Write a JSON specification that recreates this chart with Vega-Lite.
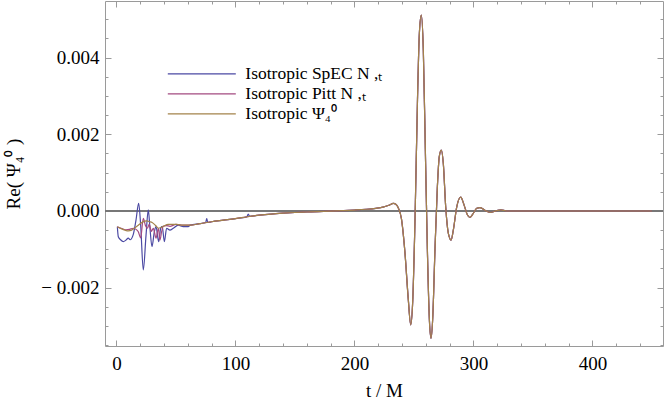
{
  "$schema": "https://vega.github.io/schema/vega-lite/v6.json",
  "width": 558,
  "height": 345,
  "autosize": {"type": "none"},
  "padding": {"left": 105, "top": 1, "right": 1, "bottom": 55},
  "background": "white",
  "config": {
    "view": {"stroke": "#9a9a9a", "strokeWidth": 1},
    "axis": {
      "domain": false,
      "grid": false,
      "tickColor": "#9a9a9a",
      "tickWidth": 1,
      "labelFont": "Liberation Serif",
      "labelFontSize": 19,
      "labelColor": "#000000",
      "titleFont": "Liberation Serif",
      "titleFontSize": 19,
      "titleFontWeight": "normal",
      "titleColor": "#000000"
    },
    "legend": {
      "orient": "none",
      "legendX": 87.3,
      "legendY": 63.3,
      "padding": 0,
      "symbolType": "M-4,0H4",
      "symbolSize": 289,
      "symbolStrokeWidth": 1.2,
      "labelOffset": 34,
      "rowPadding": 2,
      "labelFont": "Liberation Serif",
      "labelFontSize": 17.5,
      "labelColor": "#000000"
    }
  },
  "data": {
    "values": [
      {"s": "a", "t": 0.8, "v": -0.00041},
      {"s": "a", "t": 1.6, "v": -0.00067},
      {"s": "a", "t": 3.5, "v": -0.00075},
      {"s": "a", "t": 5.8, "v": -0.0008},
      {"s": "a", "t": 8, "v": -0.00076},
      {"s": "a", "t": 10, "v": -0.00071},
      {"s": "a", "t": 11.5, "v": -0.00075},
      {"s": "a", "t": 14.2, "v": -0.00061},
      {"s": "a", "t": 16.5, "v": -0.00023},
      {"s": "a", "t": 18.7, "v": 0.0002},
      {"s": "a", "t": 20.4, "v": -0.00037},
      {"s": "a", "t": 22.6, "v": -0.00154},
      {"s": "a", "t": 24.9, "v": -0.00063},
      {"s": "a", "t": 26.8, "v": 0.00003},
      {"s": "a", "t": 28.2, "v": -0.00045},
      {"s": "a", "t": 29.9, "v": -0.00093},
      {"s": "a", "t": 31.9, "v": -0.00054},
      {"s": "a", "t": 33.3, "v": -0.00041},
      {"s": "a", "t": 35.5, "v": -0.0008},
      {"s": "a", "t": 37.2, "v": -0.00045},
      {"s": "a", "t": 38.5, "v": -0.0004},
      {"s": "a", "t": 40.3, "v": -0.0008},
      {"s": "a", "t": 42.2, "v": -0.00045},
      {"s": "a", "t": 45, "v": -0.0005},
      {"s": "a", "t": 47.8, "v": -0.00045},
      {"s": "a", "t": 52, "v": -0.00037},
      {"s": "a", "t": 56.2, "v": -0.00041},
      {"s": "a", "t": 60.4, "v": -0.00041},
      {"s": "a", "t": 62, "v": -0.00037},
      {"s": "a", "t": 70, "v": -0.00033},
      {"s": "a", "t": 75, "v": -0.0003},
      {"s": "a", "t": 75.9, "v": -0.0002},
      {"s": "a", "t": 76.8, "v": -0.0003},
      {"s": "a", "t": 80, "v": -0.00028},
      {"s": "a", "t": 90, "v": -0.00024},
      {"s": "a", "t": 100, "v": -0.0002},
      {"s": "a", "t": 109.6, "v": -0.000155},
      {"s": "a", "t": 110.8, "v": -0.00008},
      {"s": "a", "t": 112, "v": -0.00014},
      {"s": "a", "t": 120, "v": -0.00011},
      {"s": "a", "t": 130, "v": -0.00008},
      {"s": "a", "t": 140, "v": -0.000058},
      {"s": "a", "t": 150, "v": -0.00004},
      {"s": "a", "t": 160, "v": -0.000027},
      {"s": "a", "t": 170, "v": -0.000014},
      {"s": "a", "t": 180, "v": -0.000003},
      {"s": "a", "t": 190, "v": 0.00001},
      {"s": "a", "t": 200, "v": 0.000025},
      {"s": "a", "t": 210, "v": 0.000045},
      {"s": "a", "t": 218, "v": 0.00007},
      {"s": "a", "t": 224, "v": 0.0001},
      {"s": "a", "t": 229, "v": 0.00015},
      {"s": "a", "t": 232.7, "v": 0.0002},
      {"s": "a", "t": 235, "v": 0.00017},
      {"s": "a", "t": 237, "v": 0.00007},
      {"s": "a", "t": 239.5, "v": -0.0002},
      {"s": "a", "t": 242.5, "v": -0.0011},
      {"s": "a", "t": 245.3, "v": -0.00232},
      {"s": "a", "t": 247.3, "v": -0.00297},
      {"s": "a", "t": 249, "v": -0.00235},
      {"s": "a", "t": 251, "v": -0.00012},
      {"s": "a", "t": 253, "v": 0.0029},
      {"s": "a", "t": 254.6, "v": 0.00465},
      {"s": "a", "t": 256.2, "v": 0.00511},
      {"s": "a", "t": 257.9, "v": 0.0042},
      {"s": "a", "t": 259.6, "v": 0.0016},
      {"s": "a", "t": 261.3, "v": -0.001},
      {"s": "a", "t": 263, "v": -0.00284},
      {"s": "a", "t": 264.4, "v": -0.00332},
      {"s": "a", "t": 265.8, "v": -0.0028},
      {"s": "a", "t": 267.7, "v": -0.001},
      {"s": "a", "t": 269.7, "v": 0.00063},
      {"s": "a", "t": 271.3, "v": 0.00142},
      {"s": "a", "t": 273, "v": 0.00159},
      {"s": "a", "t": 274.7, "v": 0.00124},
      {"s": "a", "t": 276.7, "v": 0.00011},
      {"s": "a", "t": 278.9, "v": -0.00058},
      {"s": "a", "t": 281.2, "v": -0.00076},
      {"s": "a", "t": 283.1, "v": -0.0005},
      {"s": "a", "t": 286, "v": 0.00011},
      {"s": "a", "t": 289.3, "v": 0.00036},
      {"s": "a", "t": 292.1, "v": 0.00016},
      {"s": "a", "t": 294.9, "v": -0.0001},
      {"s": "a", "t": 297.1, "v": -0.00017},
      {"s": "a", "t": 299.9, "v": -0.00006},
      {"s": "a", "t": 302.8, "v": 0.00007},
      {"s": "a", "t": 305.5, "v": 0.00009},
      {"s": "a", "t": 309, "v": 0.00003},
      {"s": "a", "t": 314, "v": -0.00004},
      {"s": "a", "t": 319.6, "v": 0.00001},
      {"s": "a", "t": 323, "v": 0.00003},
      {"s": "a", "t": 328, "v": 0},
      {"s": "a", "t": 340, "v": 0},
      {"s": "a", "t": 400, "v": 0},
      {"s": "a", "t": 450, "v": 0},

      {"s": "b", "t": 0.8, "v": -0.00041},
      {"s": "b", "t": 4, "v": -0.00045},
      {"s": "b", "t": 7.8, "v": -0.00049},
      {"s": "b", "t": 11, "v": -0.00048},
      {"s": "b", "t": 14.2, "v": -0.00045},
      {"s": "b", "t": 16.5, "v": -0.00048},
      {"s": "b", "t": 18.4, "v": -0.00054},
      {"s": "b", "t": 20.4, "v": -0.0007},
      {"s": "b", "t": 22.6, "v": -0.00019},
      {"s": "b", "t": 24.3, "v": -0.00037},
      {"s": "b", "t": 26, "v": -0.00045},
      {"s": "b", "t": 27.6, "v": -0.00035},
      {"s": "b", "t": 29.4, "v": -0.00053},
      {"s": "b", "t": 31, "v": -0.00045},
      {"s": "b", "t": 33.3, "v": -0.00071},
      {"s": "b", "t": 35.3, "v": -0.00045},
      {"s": "b", "t": 36.6, "v": -0.00076},
      {"s": "b", "t": 38, "v": -0.00054},
      {"s": "b", "t": 39.4, "v": -0.0004},
      {"s": "b", "t": 42, "v": -0.00038},
      {"s": "b", "t": 45, "v": -0.0004},
      {"s": "b", "t": 50, "v": -0.00035},
      {"s": "b", "t": 56.2, "v": -0.00037},
      {"s": "b", "t": 62, "v": -0.00037},
      {"s": "b", "t": 70, "v": -0.00033},
      {"s": "b", "t": 80, "v": -0.00028},
      {"s": "b", "t": 90, "v": -0.00024},
      {"s": "b", "t": 100, "v": -0.0002},
      {"s": "b", "t": 110, "v": -0.00015},
      {"s": "b", "t": 120, "v": -0.00011},
      {"s": "b", "t": 130, "v": -0.00008},
      {"s": "b", "t": 140, "v": -0.000058},
      {"s": "b", "t": 150, "v": -0.00004},
      {"s": "b", "t": 160, "v": -0.000027},
      {"s": "b", "t": 170, "v": -0.000014},
      {"s": "b", "t": 180, "v": -0.000003},
      {"s": "b", "t": 190, "v": 0.00001},
      {"s": "b", "t": 200, "v": 0.000025},
      {"s": "b", "t": 210, "v": 0.000045},
      {"s": "b", "t": 218, "v": 0.00007},
      {"s": "b", "t": 224, "v": 0.0001},
      {"s": "b", "t": 229, "v": 0.00015},
      {"s": "b", "t": 232.7, "v": 0.0002},
      {"s": "b", "t": 235, "v": 0.00017},
      {"s": "b", "t": 237, "v": 0.00007},
      {"s": "b", "t": 239.5, "v": -0.0002},
      {"s": "b", "t": 242.5, "v": -0.0011},
      {"s": "b", "t": 245.3, "v": -0.00232},
      {"s": "b", "t": 247.3, "v": -0.00297},
      {"s": "b", "t": 249, "v": -0.00235},
      {"s": "b", "t": 251, "v": -0.00012},
      {"s": "b", "t": 253, "v": 0.0029},
      {"s": "b", "t": 254.6, "v": 0.00465},
      {"s": "b", "t": 256.2, "v": 0.00511},
      {"s": "b", "t": 257.9, "v": 0.0042},
      {"s": "b", "t": 259.6, "v": 0.0016},
      {"s": "b", "t": 261.3, "v": -0.001},
      {"s": "b", "t": 263, "v": -0.00284},
      {"s": "b", "t": 264.4, "v": -0.00332},
      {"s": "b", "t": 265.8, "v": -0.0028},
      {"s": "b", "t": 267.7, "v": -0.001},
      {"s": "b", "t": 269.7, "v": 0.00063},
      {"s": "b", "t": 271.3, "v": 0.00142},
      {"s": "b", "t": 273, "v": 0.00159},
      {"s": "b", "t": 274.7, "v": 0.00124},
      {"s": "b", "t": 276.7, "v": 0.00011},
      {"s": "b", "t": 278.9, "v": -0.00058},
      {"s": "b", "t": 281.2, "v": -0.00076},
      {"s": "b", "t": 283.1, "v": -0.0005},
      {"s": "b", "t": 286, "v": 0.00011},
      {"s": "b", "t": 289.3, "v": 0.00036},
      {"s": "b", "t": 292.1, "v": 0.00016},
      {"s": "b", "t": 294.9, "v": -0.0001},
      {"s": "b", "t": 297.1, "v": -0.00017},
      {"s": "b", "t": 299.9, "v": -0.00006},
      {"s": "b", "t": 302.8, "v": 0.00007},
      {"s": "b", "t": 305.5, "v": 0.00009},
      {"s": "b", "t": 309, "v": 0.00003},
      {"s": "b", "t": 314, "v": -0.00004},
      {"s": "b", "t": 319.6, "v": 0.00001},
      {"s": "b", "t": 323, "v": 0.00003},
      {"s": "b", "t": 328, "v": 0},
      {"s": "b", "t": 340, "v": 0},
      {"s": "b", "t": 400, "v": 0},
      {"s": "b", "t": 450, "v": 0},

      {"s": "c", "t": 0.8, "v": -0.00041},
      {"s": "c", "t": 4, "v": -0.00046},
      {"s": "c", "t": 7.2, "v": -0.0005},
      {"s": "c", "t": 10, "v": -0.00052},
      {"s": "c", "t": 12.8, "v": -0.0005},
      {"s": "c", "t": 15.5, "v": -0.00044},
      {"s": "c", "t": 18.4, "v": -0.00037},
      {"s": "c", "t": 22, "v": -0.00029},
      {"s": "c", "t": 25.4, "v": -0.00026},
      {"s": "c", "t": 28, "v": -0.00028},
      {"s": "c", "t": 30, "v": -0.0003},
      {"s": "c", "t": 33, "v": -0.00038},
      {"s": "c", "t": 35.2, "v": -0.00045},
      {"s": "c", "t": 37.5, "v": -0.00043},
      {"s": "c", "t": 39.4, "v": -0.0004},
      {"s": "c", "t": 43.6, "v": -0.00035},
      {"s": "c", "t": 50.6, "v": -0.00035},
      {"s": "c", "t": 56.2, "v": -0.00037},
      {"s": "c", "t": 62, "v": -0.00037},
      {"s": "c", "t": 70, "v": -0.00033},
      {"s": "c", "t": 80, "v": -0.00028},
      {"s": "c", "t": 90, "v": -0.00024},
      {"s": "c", "t": 100, "v": -0.0002},
      {"s": "c", "t": 110, "v": -0.00015},
      {"s": "c", "t": 120, "v": -0.00011},
      {"s": "c", "t": 130, "v": -0.00008},
      {"s": "c", "t": 140, "v": -0.000058},
      {"s": "c", "t": 150, "v": -0.00004},
      {"s": "c", "t": 160, "v": -0.000027},
      {"s": "c", "t": 170, "v": -0.000014},
      {"s": "c", "t": 180, "v": -0.000003},
      {"s": "c", "t": 190, "v": 0.00001},
      {"s": "c", "t": 200, "v": 0.000025},
      {"s": "c", "t": 210, "v": 0.000045},
      {"s": "c", "t": 218, "v": 0.00007},
      {"s": "c", "t": 224, "v": 0.0001},
      {"s": "c", "t": 229, "v": 0.00015},
      {"s": "c", "t": 232.7, "v": 0.0002},
      {"s": "c", "t": 235, "v": 0.00017},
      {"s": "c", "t": 237, "v": 0.00007},
      {"s": "c", "t": 239.5, "v": -0.0002},
      {"s": "c", "t": 242.5, "v": -0.0011},
      {"s": "c", "t": 245.3, "v": -0.00232},
      {"s": "c", "t": 247.3, "v": -0.00297},
      {"s": "c", "t": 249, "v": -0.00235},
      {"s": "c", "t": 251, "v": -0.00012},
      {"s": "c", "t": 253, "v": 0.0029},
      {"s": "c", "t": 254.6, "v": 0.00465},
      {"s": "c", "t": 256.2, "v": 0.00511},
      {"s": "c", "t": 257.9, "v": 0.0042},
      {"s": "c", "t": 259.6, "v": 0.0016},
      {"s": "c", "t": 261.3, "v": -0.001},
      {"s": "c", "t": 263, "v": -0.00284},
      {"s": "c", "t": 264.4, "v": -0.00332},
      {"s": "c", "t": 265.8, "v": -0.0028},
      {"s": "c", "t": 267.7, "v": -0.001},
      {"s": "c", "t": 269.7, "v": 0.00063},
      {"s": "c", "t": 271.3, "v": 0.00142},
      {"s": "c", "t": 273, "v": 0.00159},
      {"s": "c", "t": 274.7, "v": 0.00124},
      {"s": "c", "t": 276.7, "v": 0.00011},
      {"s": "c", "t": 278.9, "v": -0.00058},
      {"s": "c", "t": 281.2, "v": -0.00076},
      {"s": "c", "t": 283.1, "v": -0.0005},
      {"s": "c", "t": 286, "v": 0.00011},
      {"s": "c", "t": 289.3, "v": 0.00036},
      {"s": "c", "t": 292.1, "v": 0.00016},
      {"s": "c", "t": 294.9, "v": -0.0001},
      {"s": "c", "t": 297.1, "v": -0.00017},
      {"s": "c", "t": 299.9, "v": -0.00006},
      {"s": "c", "t": 302.8, "v": 0.00007},
      {"s": "c", "t": 305.5, "v": 0.00009},
      {"s": "c", "t": 309, "v": 0.00003},
      {"s": "c", "t": 314, "v": -0.00004},
      {"s": "c", "t": 319.6, "v": 0.00001},
      {"s": "c", "t": 323, "v": 0.00003},
      {"s": "c", "t": 328, "v": 0},
      {"s": "c", "t": 340, "v": 0},
      {"s": "c", "t": 400, "v": 0},
      {"s": "c", "t": 450, "v": 0}
    ]
  },
  "resolve": {"axis": {"x": "independent", "y": "independent"}},
  "layer": [
    {
      "mark": {"type": "rule", "color": "#777777", "strokeWidth": 1},
      "encoding": {
        "y": {
          "datum": 0,
          "type": "quantitative",
          "scale": {"domain": [-0.003522, 0.005478], "nice": false, "zero": false},
          "axis": {
            "orient": "left",
            "values": [-0.0035, -0.003, -0.0025, -0.002, -0.0015, -0.001, -0.0005, 0, 0.0005, 0.001, 0.0015, 0.002, 0.0025, 0.003, 0.0035, 0.004, 0.0045, 0.005],
            "tickSize": {"condition": {"test": "abs(round(datum.value*500) - datum.value*500) < 0.001", "value": -6}, "value": -3},
            "labelExpr": "abs(round(datum.value*500) - datum.value*500) < 0.001 ? (datum.value < -0.0000001 ? '− ' + format(-datum.value, '.3f') : format(abs(datum.value), '.3f')) : ''",
            "labelPadding": 12,
            "title": "Re( Ψ₄⁰ )",
            "titlePadding": 17
          }
        }
      }
    },
    {
      "mark": {"type": "line", "strokeWidth": 1.2, "interpolate": "monotone", "clip": true},
      "encoding": {
        "x": {
          "field": "t",
          "type": "quantitative",
          "scale": {"domain": [-9.58, 459.3], "nice": false, "zero": false},
          "axis": {
            "orient": "bottom",
            "values": [0, 20, 40, 60, 80, 100, 120, 140, 160, 180, 200, 220, 240, 260, 280, 300, 320, 340, 360, 380, 400, 420, 440],
            "tickSize": {"condition": {"test": "datum.value % 100 === 0", "value": -6}, "value": -3},
            "labelExpr": "datum.value % 100 === 0 ? datum.label : ''",
            "labelPadding": 14,
            "title": "t / M",
            "titlePadding": 8
          }
        },
        "y": {
          "field": "v",
          "type": "quantitative",
          "scale": {"domain": [-0.003522, 0.005478], "nice": false, "zero": false},
          "axis": {
            "orient": "right",
            "values": [-0.0035, -0.003, -0.0025, -0.002, -0.0015, -0.001, -0.0005, 0, 0.0005, 0.001, 0.0015, 0.002, 0.0025, 0.003, 0.0035, 0.004, 0.0045, 0.005],
            "tickSize": {"condition": {"test": "abs(round(datum.value*500) - datum.value*500) < 0.001", "value": -6}, "value": -3},
            "labels": false,
            "title": null
          }
        },
        "color": {
          "field": "s",
          "type": "nominal",
          "scale": {"domain": ["a", "b", "c"], "range": ["#4b49a3", "#a34a80", "#a3834b"]},
          "legend": {
            "title": null,
            "labelExpr": "datum.label === 'a' ? 'Isotropic SpEC N ,ₜ' : datum.label === 'b' ? 'Isotropic Pitt N ,ₜ' : 'Isotropic Ψ₄⁰'"
          }
        }
      }
    },
    {
      "mark": {"type": "point", "opacity": 0},
      "encoding": {
        "x": {
          "field": "t",
          "type": "quantitative",
          "scale": {"domain": [-9.58, 459.3], "nice": false, "zero": false},
          "axis": {
            "orient": "top",
            "values": [0, 20, 40, 60, 80, 100, 120, 140, 160, 180, 200, 220, 240, 260, 280, 300, 320, 340, 360, 380, 400, 420, 440],
            "tickSize": {"condition": {"test": "datum.value % 100 === 0", "value": -6}, "value": -3},
            "labels": false,
            "title": null
          }
        },
        "y": {
          "field": "v",
          "type": "quantitative",
          "scale": {"domain": [-0.003522, 0.005478], "nice": false, "zero": false},
          "axis": null
        }
      }
    }
  ]
}
